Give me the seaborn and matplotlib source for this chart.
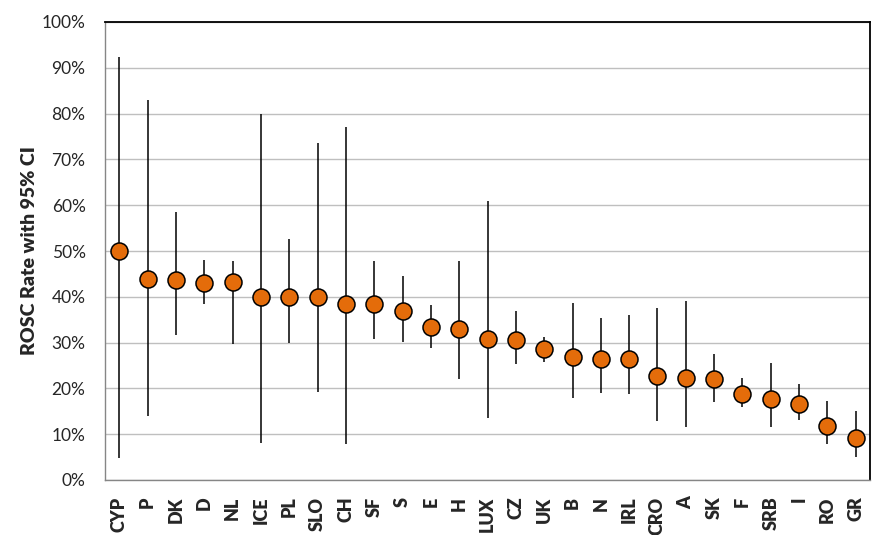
import matplotlib
matplotlib.use("Agg")
import matplotlib.pyplot as plt
import seaborn as sns
import pandas as pd
import numpy as np
from matplotlib.ticker import FuncFormatter, MultipleLocator, FixedLocator

countries = ["CYP", "P", "DK", "D", "NL", "ICE", "PL", "SLO", "CH", "SF", "S", "E", "H",
             "LUX", "CZ", "UK", "B", "N", "IRL", "CRO", "A", "SK", "F", "SRB", "I", "RO", "GR"]
rate = [50.0, 43.9, 43.7, 43.0, 43.2, 40.0, 40.0, 40.0, 38.4, 38.4, 36.9, 33.4, 33.0,
        30.8, 30.6, 28.6, 26.9, 26.4, 26.4, 22.7, 22.3, 22.0, 18.8, 17.7, 16.6, 11.8, 9.2]
ci_low = [4.8, 14.0, 31.7, 38.4, 29.7, 8.0, 29.9, 19.2, 7.8, 30.8, 30.1, 28.8, 22.0,
          13.5, 25.3, 25.8, 17.9, 19.0, 18.8, 12.9, 11.6, 17.0, 15.9, 11.6, 13.1, 7.9, 5.0]
ci_high = [92.4, 83.0, 58.5, 48.0, 47.8, 80.0, 52.6, 73.6, 77.0, 47.8, 44.5, 38.2, 47.8,
           61.0, 36.9, 31.2, 38.6, 35.4, 36.0, 37.6, 39.1, 27.5, 22.3, 25.5, 21.0, 17.2, 15.1]

df = pd.DataFrame({"country": countries, "rate": rate, "low": ci_low, "high": ci_high})

sns.set_style("white")
plt.rcParams["font.family"] = ["Lato", "DejaVu Sans"]

fig = plt.figure(figsize=(8.89, 5.35), dpi=100)
ax = fig.add_axes([105/889, 1 - 480/535, (870-105)/889, (480-22)/535])

n = len(countries)
pos = np.arange(n)
ax.vlines(pos, df["low"], df["high"], color="black", linewidth=1.1, zorder=2)
sns.scatterplot(data=df, x="country", y="rate", ax=ax, s=150, color="#E46C0A",
                edgecolor="black", linewidth=1.1, zorder=3, legend=False)

ax.set_xlim(-0.5, n - 0.5)
ax.set_ylim(0, 100)
ax.yaxis.set_major_locator(MultipleLocator(10))
ax.yaxis.set_major_formatter(FuncFormatter(lambda v, p: f"{int(round(v))}%"))
ax.grid(axis="y", color="#BFBFBF", linewidth=1.0, zorder=0)
ax.set_axisbelow(True)

ax.set_xticks(pos)
ax.set_xticklabels(countries, rotation=90, fontsize=13, fontweight="heavy")
ax.xaxis.set_minor_locator(FixedLocator(np.arange(-0.5, n, 1.0)))
ax.tick_params(axis="x", which="major", length=0, pad=12)
ax.tick_params(axis="x", which="minor", length=5, color="#868686", width=1, direction="out")
ax.tick_params(axis="y", which="major", length=5, color="#868686", width=1, direction="out",
               labelsize=12.5, pad=9)

ax.set_xlabel("")
ax.set_ylabel("ROSC Rate with 95% CI", fontsize=14, fontweight="heavy", labelpad=3)

for side in ["top", "right"]:
    ax.spines[side].set_visible(True)
    ax.spines[side].set_color("black")
    ax.spines[side].set_linewidth(1.3)
for side in ["left", "bottom"]:
    ax.spines[side].set_color("#868686")
    ax.spines[side].set_linewidth(1.0)

fig.savefig("out.png", dpi=100)
